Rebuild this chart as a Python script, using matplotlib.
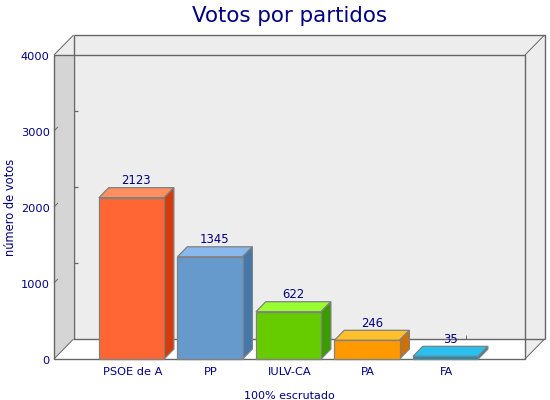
import matplotlib
matplotlib.use("Agg")
import matplotlib.pyplot as plt
from matplotlib.patches import Polygon
from matplotlib.transforms import ScaledTranslation

partidos = ["PSOE de A", "PP", "IULV-CA", "PA", "FA"]
votos = [2123, 1345, 622, 246, 35]
yticks = [0, 1000, 2000, 3000, 4000]

frente = ["#ff6633", "#6699cc", "#66cc00", "#ff9900", "#0a96c0"]
topo = ["#ff8f5f", "#88b8ec", "#99ff33", "#ffc02c", "#29c0f0"]
lado = ["#d53a0a", "#4477aa", "#3a9c00", "#d07000", "#1080a8"]

azul = "#000080"
linha = "#666666"
borda = "#808080"

plt.rcParams["font.family"] = "DejaVu Sans"

fig = plt.figure(figsize=(5.5, 4), dpi=100)
ax = fig.add_axes([54 / 550, 41 / 400, 471 / 550, 304 / 400])
ax.set_xlim(-1, 5)
ax.set_ylim(0, 4000)
for s in ax.spines.values():
    s.set_visible(False)
ax.patch.set_visible(False)

# profundidade do "3D" em unidades dos dados
DX = 19.5 / 78.5
DY = 20 * 4000 / 304
BARRA = 0.83
PROF = 0.5  # as barras usam metade da profundidade (10 px)
DESVIO = -0.012


def poli(pts, cor, ec="none", z=1, lw=0.9):
    ax.add_patch(Polygon(pts, closed=True, fc=cor, ec=ec, lw=lw, zorder=z, clip_on=False))


def seg(xs, ys, z=2, lw=1.0, cor=linha):
    ax.plot(xs, ys, color=cor, lw=lw, zorder=z, clip_on=False, solid_capstyle="butt")


# paredes
poli([(-1, 0), (-1, 4000), (-1 + DX, 4000 + DY), (-1 + DX, DY)], "#d5d5d5")
poli([(-1, 4000), (-1 + DX, 4000 + DY), (5 + DX, 4000 + DY), (5 + DX, DY), (5, 0), (5, 4000)], "#ededed")
poli([(-1 + DX, DY), (5 + DX, DY), (5 + DX, 4000 + DY), (-1 + DX, 4000 + DY)], "#ededed")

# caixa de trás
seg([-1 + DX, 5 + DX, 5 + DX], [4000 + DY, 4000 + DY, DY])
seg([-1 + DX, -1 + DX, 5 + DX], [4000 + DY, DY, DY])
# diagonais
for x0, y0 in [(-1, 0), (-1, 4000), (5, 0), (5, 4000)]:
    seg([x0, x0 + DX], [y0, y0 + DY], lw=0.7)

# marcas nas paredes
for v in yticks[1:-1]:
    seg([-1, -1 + DX * 0.2], [v, v + DY * 0.2], lw=0.7)
    seg([-1 + DX, -1 + DX * 1.22], [v + DY, v + DY], lw=0.9)
for i in range(len(partidos)):
    seg([i + DX, i + DX], [DY, DY + 50], lw=0.7)

# caixa da frente
seg([-1, 5, 5, -1, -1], [4000, 4000, 0, 0, 4000], z=3)

# barras
for i, v in enumerate(votos):
    e = i + DESVIO - BARRA / 2
    d = i + DESVIO + BARRA / 2
    ox = DX * PROF
    oy = DY * PROF
    poli([(e, v), (d, v), (d + ox, v + oy), (e + ox, v + oy)], topo[i], borda, 5)
    poli([(d, 0), (d + ox, oy), (d + ox, v + oy), (d, v)], lado[i], borda, 5)
    poli([(e, 0), (d, 0), (d, v), (e, v)], frente[i], borda, 6)
    ax.annotate(str(v), (i + DESVIO + ox / 2, v + oy), xytext=(0, 0.3), textcoords="offset points",
                ha="center", va="bottom", color=azul, fontsize=8.4, zorder=7, annotation_clip=False)

ax.set_xticks(range(len(partidos)))
ax.set_xticklabels(partidos, fontsize=8.2, color=azul)
ax.set_yticks(yticks)
ax.set_yticklabels([str(v) for v in yticks], fontsize=8.2, color=azul)
ax.tick_params(axis="x", length=0, pad=6)
ax.tick_params(axis="y", length=0, pad=3)
for lab in ax.get_yticklabels():
    lab.set_transform(lab.get_transform() + ScaledTranslation(0, -1.5 / 100, fig.dpi_scale_trans))

ax.set_title("Votos por partidos", color=azul, fontsize=15.4, y=1.0, pad=24)
ax.set_xlabel("100% escrutado", color=azul, fontsize=8, labelpad=10)
ax.set_ylabel("número de votos", color=azul, fontsize=8.3, labelpad=3)

fig.savefig("out.png", dpi=100)
